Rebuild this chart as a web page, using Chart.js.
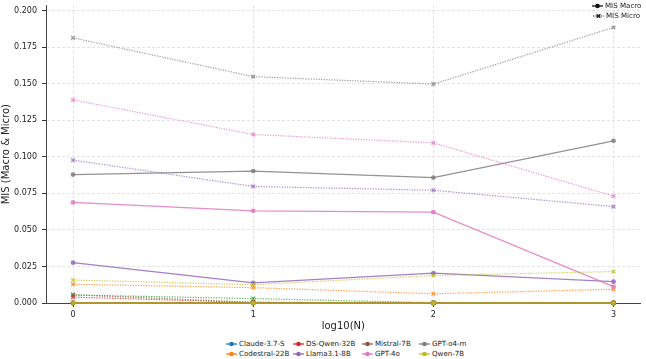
<!DOCTYPE html>
<html>
<head>
<meta charset="utf-8">
<script src="https://cdn.jsdelivr.net/npm/chart.js@4/dist/chart.umd.min.js"></script>
<style>
  body { margin: 0; background: #fff; font-family: "DejaVu Sans", sans-serif; }
  #wrap { position: relative; width: 646px; height: 359px; overflow: hidden; }
  #chart { position: absolute; left: 0; top: 0; }
  .item { position: absolute; display: flex; align-items: center; font-size: 7.1px; color: #222; white-space: nowrap; }
  .item svg { margin-right: 2px; }
</style>
</head>
<body>
<div id="wrap">
  <canvas id="chart" width="646" height="336"></canvas>
  <div id="modeLegend"></div>
  <div id="modelLegend"></div>
</div>
<script>
const xs = [0, 1, 2, 3];
const yTicks = [0, 0.025, 0.05, 0.075, 0.1, 0.125, 0.15, 0.175, 0.2];

// legend (names and colours as printed under the axis)
const legendNames = ['Claude-3.7-S', 'DS-Qwen-32B', 'Mistral-7B', 'GPT-o4-m', 'Codestral-22B', 'Llama3.1-8B', 'GPT-4o', 'Qwen-7B'];
const legendColors = ['#1f77b4', '#d62728', '#8c564b', '#7f7f7f', '#ff7f0e', '#9467bd', '#e377c2', '#bcbd22'];

// plotted series, in drawing order
const seriesNames = ['Claude-3.7-S', 'Codestral-22B', 'green', 'DS-Qwen-32B', 'Llama3.1-8B', 'Mistral-7B', 'GPT-4o', 'GPT-o4-m', 'Qwen-7B'];
const seriesColors = ['#1f77b4', '#ff7f0e', '#2ca02c', '#d62728', '#9467bd', '#8c564b', '#e377c2', '#7f7f7f', '#bcbd22'];
const macro = [
  [0, 0, 0, 0],
  [0, 0, 0, 0],
  [0, 0, 0, 0],
  [0, 0, 0, 0],
  [0.0276, 0.0138, 0.0204, 0.0146],
  [0, 0, 0, 0],
  [0.0688, 0.063, 0.0621, 0.0112],
  [0.0878, 0.0902, 0.0858, 0.1109],
  [0, 0, 0, 0]
];
const micro = [
  [0, 0, 0, 0],
  [0.0128, 0.0105, 0.0063, 0.0094],
  [0.0055, 0.003, 0.0002, 0],
  [0.004, 0.0004, 0, 0],
  [0.0977, 0.0797, 0.0771, 0.0659],
  [0.0056, 0.0005, 0, 0],
  [0.1389, 0.1152, 0.1095, 0.0731],
  [0.1813, 0.1548, 0.1497, 0.1884],
  [0.0157, 0.0125, 0.0188, 0.0215]
];

const hexA = (h, a) => {
  const n = parseInt(h.slice(1), 16);
  return `rgba(${n >> 16},${(n >> 8) & 255},${n & 255},${a})`;
};

const datasets = [];
seriesNames.forEach((name, i) => {
  const c = seriesColors[i];
  datasets.push({
    label: name + ' macro',
    data: xs.map((x, k) => ({ x, y: macro[i][k] })),
    borderColor: hexA(c, 0.85), backgroundColor: hexA(c, 0.85),
    borderWidth: 1.3, pointRadius: 2.4, pointStyle: 'circle', pointBorderWidth: 0,
    tension: 0, clip: 6, order: -(2 * i)
  });
  datasets.push({
    label: name + ' micro',
    data: xs.map((x, k) => ({ x, y: micro[i][k] })),
    borderColor: hexA(c, 0.75), backgroundColor: hexA(c, 0.75),
    borderWidth: 1.2, borderDash: [1.3, 1.3], pointRadius: 2.6, pointStyle: 'crossRot', pointBorderWidth: 1.4,
    tension: 0, clip: 6, order: -(2 * i + 1)
  });
});

const font = { family: '"DejaVu Sans", sans-serif' };

new Chart(document.getElementById('chart'), {
  type: 'line',
  data: { datasets },
  options: {
    responsive: false,
    animation: false,
    layout: { padding: { top: 0, right: 1, bottom: 0, left: 0 } },
    plugins: { legend: { display: false }, tooltip: { enabled: false } },
    scales: {
      x: {
        type: 'linear', min: -0.15, max: 3.15,
        ticks: { stepSize: 1, includeBounds: false, color: '#222', padding: 3, font: { ...font, size: 8 } },
        grid: { color: '#e3e3e3', tickColor: '#333', tickLength: 4 },
        border: { color: '#444', width: 1, dash: [3, 2] },
        title: { display: true, text: 'log10(N)', color: '#222', font: { ...font, size: 10 }, padding: { top: 0, bottom: 4 } },
        afterFit: (s) => { s.height = 33; s.paddingLeft = 0; s.paddingRight = 0; }
      },
      y: {
        min: 0, max: 0.2035,
        afterBuildTicks: (s) => { s.ticks = yTicks.map((v) => ({ value: v })); },
        ticks: { color: '#222', padding: 5, font: { ...font, size: 8 }, callback: (v) => Number(v).toFixed(3) },
        grid: { color: '#e3e3e3', tickColor: '#333', tickLength: 4 },
        border: { color: '#444', width: 1, dash: [3, 2] },
        title: { display: true, text: 'MIS (Macro & Micro)', color: '#222', font: { ...font, size: 10 }, padding: { top: 0, bottom: 0 } },
        afterFit: (s) => { s.width = 46; s.paddingTop = 0; s.paddingBottom = 0; }
      }
    }
  }
});

function handle(color, dotted) {
  const line = dotted
    ? `<line x1="0" y1="4" x2="11" y2="4" stroke="${color}" stroke-width="1.2" stroke-dasharray="1.3 1.3"/>`
    : `<line x1="0" y1="4" x2="11" y2="4" stroke="${color}" stroke-width="1.3"/>`;
  const mark = dotted
    ? `<path d="M3.7 2.2 L7.3 5.8 M7.3 2.2 L3.7 5.8" stroke="${color}" stroke-width="1.3"/>`
    : `<circle cx="5.5" cy="4" r="2.3" fill="${color}"/>`;
  return `<svg width="11" height="8">${line}${mark}</svg>`;
}

// top-right legend
document.getElementById('modeLegend').innerHTML = `
  <div class="item" style="left:592px;top:1px">${handle('#111', false)}MIS Macro</div>
  <div class="item" style="left:593px;top:11px">${handle('#111', true)}MIS Micro</div>
`;

// bottom legend, 4 columns x 2 rows
const colX = [226, 293, 362, 419];
document.getElementById('modelLegend').innerHTML = legendNames.map((n, i) => {
  const col = i % 4, row = Math.floor(i / 4);
  return `<div class="item" style="left:${colX[col]}px;top:${339 + row * 10}px">${handle(legendColors[i], false)}${n}</div>`;
}).join('');
</script>
</body>
</html>
